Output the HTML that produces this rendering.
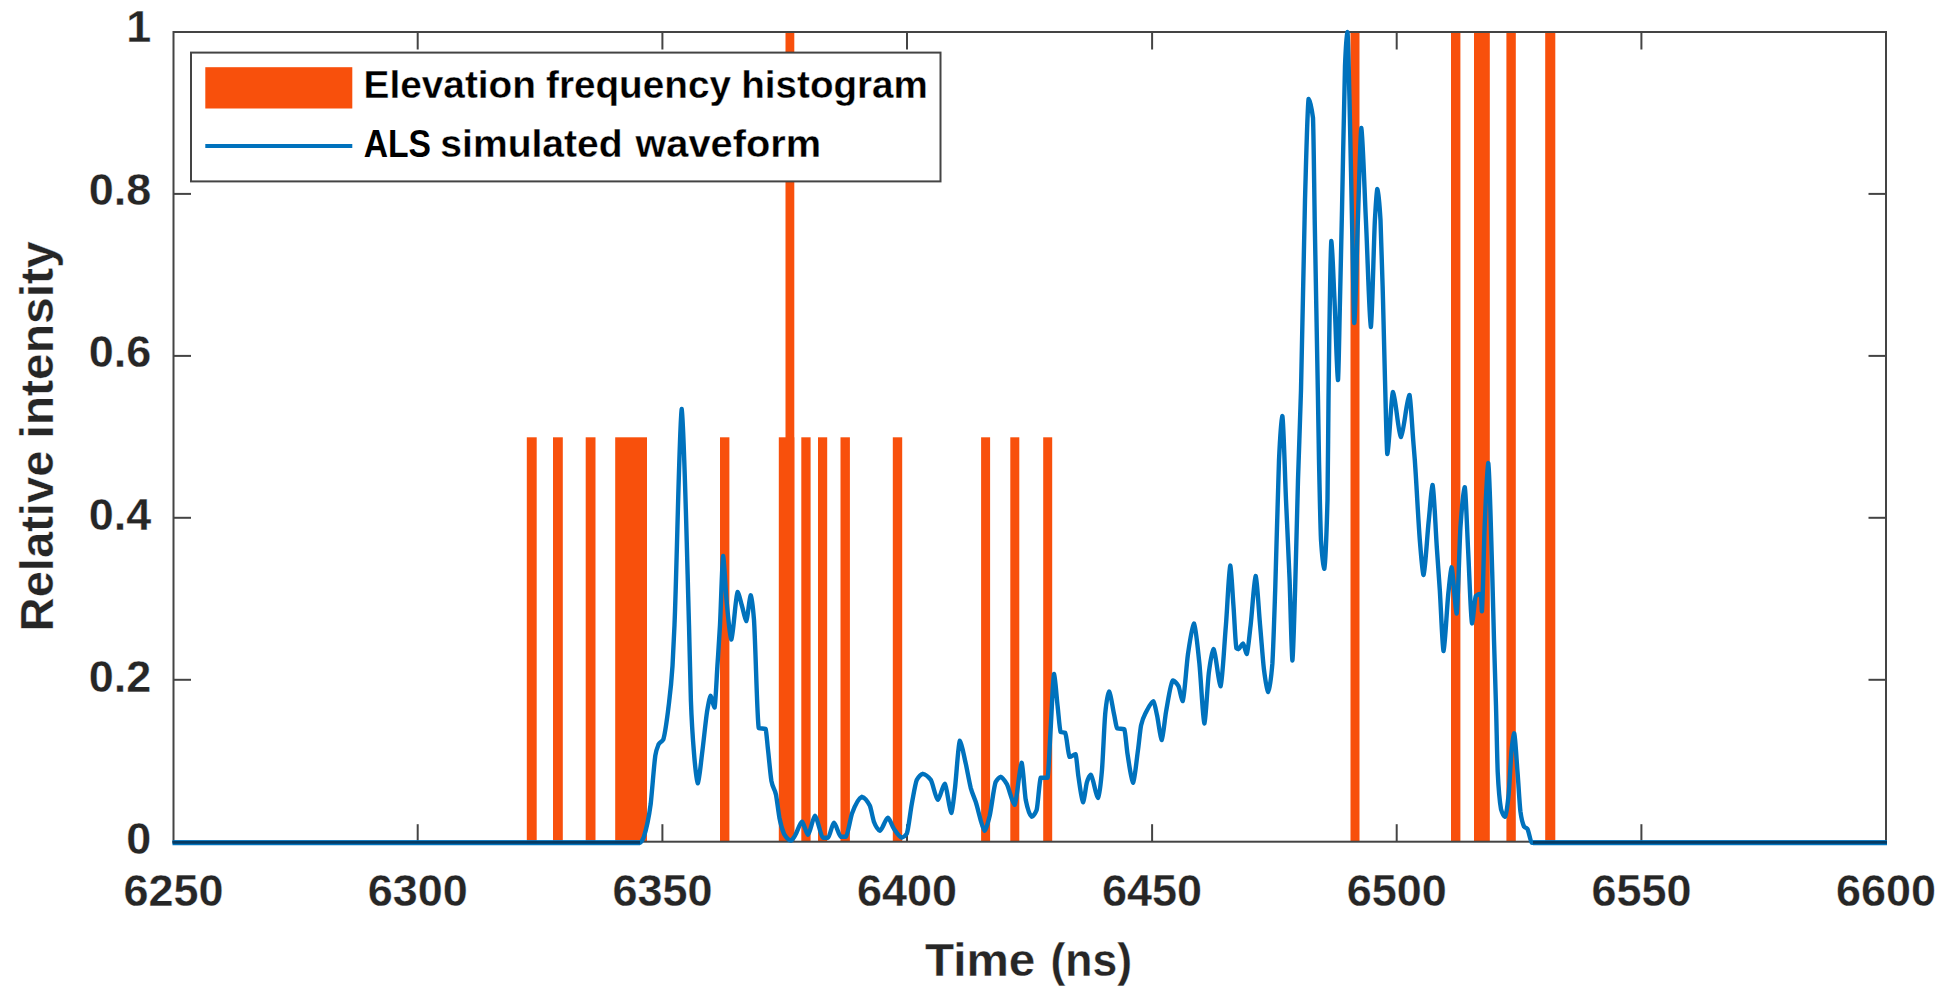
<!DOCTYPE html>
<html lang="en"><head><meta charset="utf-8"><title>ALS simulated waveform</title>
<style>html,body{margin:0;padding:0;background:#fff;}svg{display:block;}text{font-family:"Liberation Sans",sans-serif;font-weight:bold;stroke:#fff;stroke-width:0.3px;}</style></head><body>
<svg width="1947" height="1001" viewBox="0 0 1947 1001">
<rect x="0" y="0" width="1947" height="1001" fill="#fff"/>
<g fill="#F8500C">
<rect x="526.8" y="437.3" width="9.9" height="404.4"/>
<rect x="553.0" y="437.3" width="9.8" height="404.4"/>
<rect x="585.7" y="437.3" width="9.8" height="404.4"/>
<rect x="615.2" y="437.3" width="31.8" height="404.4"/>
<rect x="720.0" y="437.3" width="9.4" height="404.4"/>
<rect x="778.8" y="437.3" width="15.5" height="404.4"/>
<rect x="801.3" y="437.3" width="9.3" height="404.4"/>
<rect x="818.0" y="437.3" width="9.2" height="404.4"/>
<rect x="840.5" y="437.3" width="9.4" height="404.4"/>
<rect x="892.8" y="437.3" width="9.4" height="404.4"/>
<rect x="981.1" y="437.3" width="9.0" height="404.4"/>
<rect x="1010.3" y="437.3" width="9.0" height="404.4"/>
<rect x="1043.2" y="437.3" width="9.0" height="404.4"/>
<rect x="785.5" y="32.0" width="8.8" height="809.7"/>
<rect x="1350.5" y="32.0" width="9.0" height="809.7"/>
<rect x="1451.0" y="32.0" width="9.4" height="809.7"/>
<rect x="1474.0" y="32.0" width="15.8" height="809.7"/>
<rect x="1506.4" y="32.0" width="9.4" height="809.7"/>
<rect x="1545.2" y="32.0" width="10.1" height="809.7"/>
</g>
<rect x="173.5" y="32.0" width="1712.5" height="809.7" fill="none" stroke="#444444" stroke-width="2"/>
<g stroke="#444444" stroke-width="2">
<line x1="417.7" y1="841.7" x2="417.7" y2="824.2"/><line x1="417.7" y1="32.0" x2="417.7" y2="49.5"/>
<line x1="662.4" y1="841.7" x2="662.4" y2="824.2"/><line x1="662.4" y1="32.0" x2="662.4" y2="49.5"/>
<line x1="907.0" y1="841.7" x2="907.0" y2="824.2"/><line x1="907.0" y1="32.0" x2="907.0" y2="49.5"/>
<line x1="1152.1" y1="841.7" x2="1152.1" y2="824.2"/><line x1="1152.1" y1="32.0" x2="1152.1" y2="49.5"/>
<line x1="1396.7" y1="841.7" x2="1396.7" y2="824.2"/><line x1="1396.7" y1="32.0" x2="1396.7" y2="49.5"/>
<line x1="1641.4" y1="841.7" x2="1641.4" y2="824.2"/><line x1="1641.4" y1="32.0" x2="1641.4" y2="49.5"/>
<line x1="173.5" y1="679.8" x2="191.0" y2="679.8"/><line x1="1886.0" y1="679.8" x2="1868.5" y2="679.8"/>
<line x1="173.5" y1="517.8" x2="191.0" y2="517.8"/><line x1="1886.0" y1="517.8" x2="1868.5" y2="517.8"/>
<line x1="173.5" y1="355.9" x2="191.0" y2="355.9"/><line x1="1886.0" y1="355.9" x2="1868.5" y2="355.9"/>
<line x1="173.5" y1="193.9" x2="191.0" y2="193.9"/><line x1="1886.0" y1="193.9" x2="1868.5" y2="193.9"/>
</g>
<path d="M173.5,842.7C329.0,842.7 484.5,842.7 640.0,842.7C641.3,842.2 642.5,840.2 643.8,837.2C646.1,829.9 648.4,820.9 650.7,803.9C652.2,790.4 653.8,767.0 655.3,755.6C656.4,749.2 657.6,746.8 658.7,744.1C660.2,741.4 661.8,742.2 663.3,739.5C664.8,734.9 666.4,723.5 667.9,712.0C669.4,699.0 671.0,689.7 672.5,666.0C673.2,653.9 673.8,639.7 674.5,625.0C676.9,566.4 679.3,427.0 681.7,409.0C684.1,427.0 686.6,538.3 689.0,625.0C689.6,649.2 690.3,679.2 690.9,700.5C692.1,732.9 693.2,742.8 694.4,758.0C695.5,770.2 696.7,781.1 697.8,783.2C699.3,780.5 700.9,762.6 702.4,751.0C703.9,738.9 705.5,722.5 707.0,712.0C708.2,705.2 709.3,697.2 710.5,695.9C711.9,696.9 713.2,706.4 714.6,707.4C715.5,703.9 716.5,680.2 717.4,666.0C718.3,652.6 719.1,640.6 720.0,625.0C721.0,604.7 722.1,561.8 723.1,556.0C724.2,559.7 725.4,587.0 726.5,600.0C728.1,616.5 729.7,636.2 731.3,639.5C733.4,635.5 735.5,596.0 737.6,592.0C739.1,593.2 740.5,601.2 742.0,606.0C743.4,610.8 744.9,619.8 746.3,621.0C747.8,618.9 749.2,597.5 750.7,595.4C751.8,597.4 752.9,606.5 754.0,620.0C755.6,645.3 757.1,718.7 758.7,728.0C761.0,728.6 763.3,728.4 765.6,729.0C766.4,730.8 767.1,742.0 767.9,748.7C769.1,759.1 770.2,773.0 771.4,780.9C772.9,789.0 774.5,787.6 776.0,794.7C777.1,801.0 778.3,811.2 779.4,817.7C780.9,825.2 782.5,830.2 784.0,833.8C786.3,837.8 788.6,840.1 790.9,840.7C792.3,840.3 793.6,837.7 795.0,835.7C797.3,831.9 799.7,823.0 802.0,821.8C804.0,822.9 806.0,833.6 808.0,834.7C810.3,833.1 812.7,817.4 815.0,815.8C817.7,817.6 820.3,835.9 823.0,837.7C824.7,837.7 826.3,837.7 828.0,837.7C830.0,836.5 831.9,824.0 833.9,822.8C836.2,824.0 838.6,835.5 840.9,836.7C842.6,836.7 844.2,836.7 845.9,836.7C847.9,834.8 849.9,820.2 851.9,813.8C855.2,804.8 858.6,798.2 861.9,796.8C864.6,797.5 867.2,800.5 869.9,805.8C871.2,809.4 872.6,817.5 873.9,821.8C875.9,827.0 877.9,830.0 879.9,830.7C882.6,829.6 885.2,818.9 887.9,817.8C889.9,818.7 891.9,825.5 893.9,828.7C896.5,832.5 899.2,837.0 901.8,837.7C903.5,837.4 905.1,836.0 906.8,833.7C908.5,829.2 910.1,813.0 911.8,803.8C913.5,795.1 915.1,784.3 916.8,779.8C918.8,776.3 920.8,774.3 922.8,773.8C925.5,774.3 928.1,776.3 930.8,779.8C933.1,784.1 935.5,798.1 937.8,799.8C940.1,798.5 942.5,785.1 944.8,783.8C947.0,786.2 949.2,810.4 951.4,812.8C952.5,810.9 953.7,798.5 954.8,789.8C956.5,775.7 958.1,745.0 959.8,740.9C961.8,742.8 963.8,755.3 965.8,763.8C967.4,771.2 969.1,781.1 970.7,787.8C972.4,793.8 974.0,796.9 975.7,801.8C978.7,810.8 981.7,828.3 984.7,830.7C986.4,829.5 988.0,822.3 989.7,815.8C991.7,806.7 993.7,787.6 995.7,781.8C997.4,778.9 999.0,777.2 1000.7,776.8C1002.7,777.4 1004.7,780.5 1006.7,783.8C1009.4,789.1 1012.0,803.0 1014.7,804.8C1017.0,801.3 1019.4,766.3 1021.7,762.8C1023.0,765.9 1024.4,791.0 1025.7,799.8C1027.7,809.7 1029.7,815.4 1031.7,816.8C1033.4,816.2 1035.0,813.9 1036.7,809.8C1038.0,804.3 1039.4,780.5 1040.7,777.8C1043.0,777.8 1045.3,777.8 1047.6,777.8C1048.6,773.8 1049.6,746.0 1050.6,729.9C1051.7,711.5 1052.9,678.7 1054.0,674.0C1055.2,676.7 1056.4,695.4 1057.6,705.9C1058.6,714.6 1059.6,729.4 1060.6,731.9C1062.1,732.5 1063.7,732.3 1065.2,732.9C1066.7,735.4 1068.1,754.9 1069.6,756.9C1071.6,756.7 1073.6,754.5 1075.6,754.3C1076.5,756.1 1077.4,769.2 1078.3,775.8C1079.9,786.5 1081.5,800.1 1083.1,802.3C1084.3,800.7 1085.6,787.8 1086.8,782.7C1088.1,778.3 1089.5,775.4 1090.8,774.7C1093.2,776.6 1095.6,796.0 1098.0,797.9C1099.3,795.6 1100.7,785.0 1102.0,769.9C1103.1,755.0 1104.1,727.6 1105.2,714.0C1106.5,700.9 1107.9,693.5 1109.2,691.6C1110.8,693.5 1112.4,706.7 1114.0,714.0C1115.1,718.9 1116.1,727.0 1117.2,728.4C1119.6,728.9 1121.9,728.7 1124.3,729.2C1125.4,731.4 1126.4,746.4 1127.5,753.9C1129.4,765.8 1131.2,780.3 1133.1,782.7C1134.7,780.0 1136.3,762.3 1137.9,750.7C1139.0,742.6 1140.0,731.4 1141.1,725.2C1143.0,716.8 1144.8,714.9 1146.7,710.8C1148.9,706.6 1151.2,702.1 1153.4,701.3C1154.6,702.5 1155.9,710.2 1157.1,715.6C1158.6,722.8 1160.2,738.0 1161.7,740.0C1163.1,737.7 1164.6,720.6 1166.0,712.0C1168.3,699.5 1170.5,683.1 1172.8,680.5C1174.7,681.0 1176.6,682.9 1178.5,686.2C1179.9,689.5 1181.3,699.8 1182.7,701.0C1184.5,697.1 1186.2,667.2 1188.0,653.9C1190.0,640.7 1192.0,626.0 1194.0,623.5C1195.8,626.8 1197.6,646.9 1199.4,663.4C1201.1,680.6 1202.7,718.4 1204.4,723.4C1205.9,719.2 1207.3,686.3 1208.8,672.9C1210.4,660.9 1212.0,651.1 1213.6,649.1C1215.9,652.2 1218.3,683.1 1220.6,686.2C1222.4,681.1 1224.1,647.2 1225.9,625.4C1227.4,606.5 1228.8,570.6 1230.3,565.6C1231.4,569.0 1232.4,592.1 1233.5,606.4C1234.5,619.8 1235.4,644.0 1236.4,648.2C1237.0,648.8 1237.7,649.1 1238.3,649.2C1239.9,648.7 1241.4,644.0 1243.0,643.5C1244.3,644.4 1245.5,653.0 1246.8,653.9C1248.1,651.5 1249.3,635.8 1250.6,625.4C1252.3,610.5 1254.0,580.2 1255.7,576.1C1257.2,580.2 1258.6,608.8 1260.1,625.4C1261.4,639.8 1262.6,657.3 1263.9,669.1C1265.3,680.0 1266.7,690.0 1268.1,691.9C1269.5,689.5 1271.0,680.0 1272.4,663.4C1273.3,648.0 1274.3,616.8 1275.2,590.0C1276.5,551.0 1277.7,492.7 1279.0,460.0C1280.1,436.8 1281.3,419.7 1282.4,416.0C1283.6,423.0 1284.8,472.5 1286.0,500.0C1287.2,527.2 1288.4,550.0 1289.6,580.0C1290.5,604.8 1291.5,653.8 1292.4,660.5C1293.3,654.6 1294.2,617.3 1295.1,590.0C1296.1,557.8 1297.0,513.8 1298.0,480.0C1299.0,447.0 1300.0,425.6 1301.0,390.0C1302.3,336.7 1303.7,253.1 1305.0,200.0C1306.2,158.0 1307.4,107.3 1308.6,98.9C1310.1,100.5 1311.5,106.8 1313.0,117.9C1313.6,130.7 1314.2,190.1 1314.8,225.0C1315.9,285.8 1316.9,338.4 1318.0,400.0C1318.3,419.7 1318.7,441.7 1319.0,460.0C1319.7,493.3 1320.3,524.6 1321.0,540.0C1322.1,556.8 1323.2,566.4 1324.3,568.8C1325.4,563.1 1326.4,540.1 1327.5,500.0C1327.8,480.9 1328.2,430.5 1328.5,400.0C1329.4,324.7 1330.4,254.2 1331.3,241.0C1332.4,245.9 1333.4,278.6 1334.5,300.0C1335.7,324.6 1336.8,373.3 1338.0,380.0C1338.7,373.3 1339.3,327.9 1340.0,300.0C1340.7,271.2 1341.3,240.6 1342.0,210.0C1343.0,163.3 1344.0,98.4 1345.0,66.0C1345.8,46.2 1346.7,34.8 1347.5,32.0C1348.2,37.7 1348.8,74.2 1349.5,100.0C1350.3,135.1 1351.2,181.0 1352.0,220.0C1352.8,255.2 1353.5,314.4 1354.3,323.0C1355.5,314.4 1356.7,253.6 1357.9,220.0C1359.0,188.7 1360.2,135.7 1361.3,128.0C1362.8,135.7 1364.4,188.6 1365.9,220.0C1367.6,254.8 1369.2,318.1 1370.9,327.0C1372.2,318.1 1373.6,247.0 1374.9,220.0C1375.7,206.6 1376.5,191.6 1377.3,189.0C1378.4,191.6 1379.4,201.9 1380.5,220.0C1381.3,238.8 1382.2,270.6 1383.0,300.0C1383.7,324.9 1384.3,355.2 1385.0,380.0C1385.8,407.1 1386.5,447.8 1387.3,454.0C1389.2,448.8 1391.0,397.2 1392.9,392.0C1395.6,395.8 1398.2,433.2 1400.9,437.0C1403.8,433.5 1406.6,398.5 1409.5,395.0C1410.7,398.8 1412.0,424.8 1413.2,440.0C1413.7,446.6 1414.3,453.0 1414.8,460.0C1416.5,483.4 1418.1,518.0 1419.8,540.0C1421.0,554.2 1422.3,572.1 1423.5,575.0C1425.3,570.4 1427.0,537.4 1428.8,520.0C1430.1,507.9 1431.3,487.9 1432.6,485.0C1434.1,490.4 1435.5,528.7 1437.0,550.0C1437.9,563.5 1438.9,576.0 1439.8,590.0C1441.0,609.2 1442.3,645.9 1443.5,651.0C1445.1,646.2 1446.7,610.0 1448.3,593.7C1449.4,583.6 1450.5,569.6 1451.6,567.4C1453.3,571.2 1455.0,609.7 1456.7,613.5C1457.9,606.4 1459.2,550.6 1460.4,527.9C1461.9,506.0 1463.3,490.6 1464.8,487.2C1465.9,492.4 1467.0,529.0 1468.1,549.8C1469.4,574.4 1470.7,617.3 1472.0,623.4C1473.3,621.1 1474.5,599.1 1475.8,596.0C1477.5,594.7 1479.3,593.9 1481.0,593.7C1481.3,595.2 1481.6,609.8 1481.9,611.3C1482.8,604.3 1483.7,551.9 1484.6,527.9C1485.8,499.1 1487.1,468.5 1488.3,463.1C1489.6,472.2 1490.9,528.9 1492.2,571.8C1492.8,593.1 1493.4,618.3 1494.0,640.0C1494.7,663.3 1495.3,682.5 1496.0,706.0C1496.6,726.8 1497.1,756.7 1497.7,771.8C1498.8,793.6 1499.9,802.8 1501.0,809.1C1502.3,813.6 1503.7,816.2 1505.0,816.8C1506.2,814.9 1507.5,806.0 1508.7,793.7C1509.7,781.9 1510.6,761.1 1511.6,749.8C1512.5,741.6 1513.3,734.7 1514.2,733.3C1515.3,736.5 1516.4,758.1 1517.5,771.8C1518.5,784.3 1519.4,802.0 1520.4,811.3C1521.6,820.3 1522.9,824.2 1524.1,826.7C1525.2,828.0 1526.3,827.6 1527.4,828.9C1528.9,831.5 1530.3,841.6 1531.8,842.7C1649.9,842.7 1767.9,842.7 1886.0,842.7" fill="none" stroke="#0072BD" stroke-width="4.4" stroke-linejoin="round" stroke-linecap="butt"/>
<path d="M172.5,842.7H640M1533,842.7H1887.0" fill="none" stroke="#0072BD" stroke-width="5"/>
<path d="M172.5,842.4H640M1533,842.4H1887.0" fill="none" stroke="#063b63" stroke-width="2.6"/>
<rect x="191" y="52.6" width="749.5" height="128.8" fill="#fff" stroke="#444444" stroke-width="2"/>
<rect x="205.3" y="67.2" width="147" height="41.3" fill="#F8500C"/>
<line x1="205.3" y1="146" x2="352.3" y2="146" stroke="#0072BD" stroke-width="4"/>
<text x="363.5" y="97.6" font-size="38" fill="#000" textLength="172.5" lengthAdjust="spacingAndGlyphs">Elevation</text>
<text x="546.0" y="97.6" font-size="38" fill="#000" textLength="185.0" lengthAdjust="spacingAndGlyphs">frequency</text>
<text x="741.3" y="97.6" font-size="38" fill="#000" textLength="186.6" lengthAdjust="spacingAndGlyphs">histogram</text>
<text x="363.7" y="156.9" font-size="38" fill="#000" textLength="67.3" lengthAdjust="spacingAndGlyphs" style="stroke:none">ALS</text>
<text x="440.3" y="156.9" font-size="38" fill="#000" textLength="182.4" lengthAdjust="spacingAndGlyphs">simulated</text>
<text x="635.4" y="156.9" font-size="38" fill="#000" textLength="185.8" lengthAdjust="spacingAndGlyphs">waveform</text>
<g font-size="45" fill="#262626">
<text x="173.5" y="905.5" text-anchor="middle" textLength="100" lengthAdjust="spacingAndGlyphs">6250</text>
<text x="417.7" y="905.5" text-anchor="middle" textLength="100" lengthAdjust="spacingAndGlyphs">6300</text>
<text x="662.4" y="905.5" text-anchor="middle" textLength="100" lengthAdjust="spacingAndGlyphs">6350</text>
<text x="907.0" y="905.5" text-anchor="middle" textLength="100" lengthAdjust="spacingAndGlyphs">6400</text>
<text x="1152.1" y="905.5" text-anchor="middle" textLength="100" lengthAdjust="spacingAndGlyphs">6450</text>
<text x="1396.7" y="905.5" text-anchor="middle" textLength="100" lengthAdjust="spacingAndGlyphs">6500</text>
<text x="1641.4" y="905.5" text-anchor="middle" textLength="100" lengthAdjust="spacingAndGlyphs">6550</text>
<text x="1886.0" y="905.5" text-anchor="middle" textLength="100" lengthAdjust="spacingAndGlyphs">6600</text>
<text x="151.3" y="854.1" text-anchor="end" textLength="25" lengthAdjust="spacingAndGlyphs">0</text>
<text x="151.3" y="691.8" text-anchor="end" textLength="62.5" lengthAdjust="spacingAndGlyphs">0.2</text>
<text x="151.3" y="529.5" text-anchor="end" textLength="62.5" lengthAdjust="spacingAndGlyphs">0.4</text>
<text x="151.3" y="367.2" text-anchor="end" textLength="62.5" lengthAdjust="spacingAndGlyphs">0.6</text>
<text x="151.3" y="204.9" text-anchor="end" textLength="62.5" lengthAdjust="spacingAndGlyphs">0.8</text>
<text x="151.3" y="41.9" text-anchor="end" textLength="25" lengthAdjust="spacingAndGlyphs">1</text>
</g>
<text x="925.0" y="975.7" font-size="46.5" fill="#262626" textLength="110.3" lengthAdjust="spacingAndGlyphs">Time</text>
<text x="1050.5" y="975.7" font-size="46.5" fill="#262626" textLength="81.5" lengthAdjust="spacingAndGlyphs">(ns)</text>
<g transform="translate(52.5,628.4) rotate(-90)">
<text x="-3.0" y="0" font-size="46.5" fill="#262626" textLength="180.8" lengthAdjust="spacingAndGlyphs">Relative</text>
<text x="189.9" y="0" font-size="46.5" fill="#262626" textLength="197.2" lengthAdjust="spacingAndGlyphs">intensity</text>
</g>
</svg></body></html>
